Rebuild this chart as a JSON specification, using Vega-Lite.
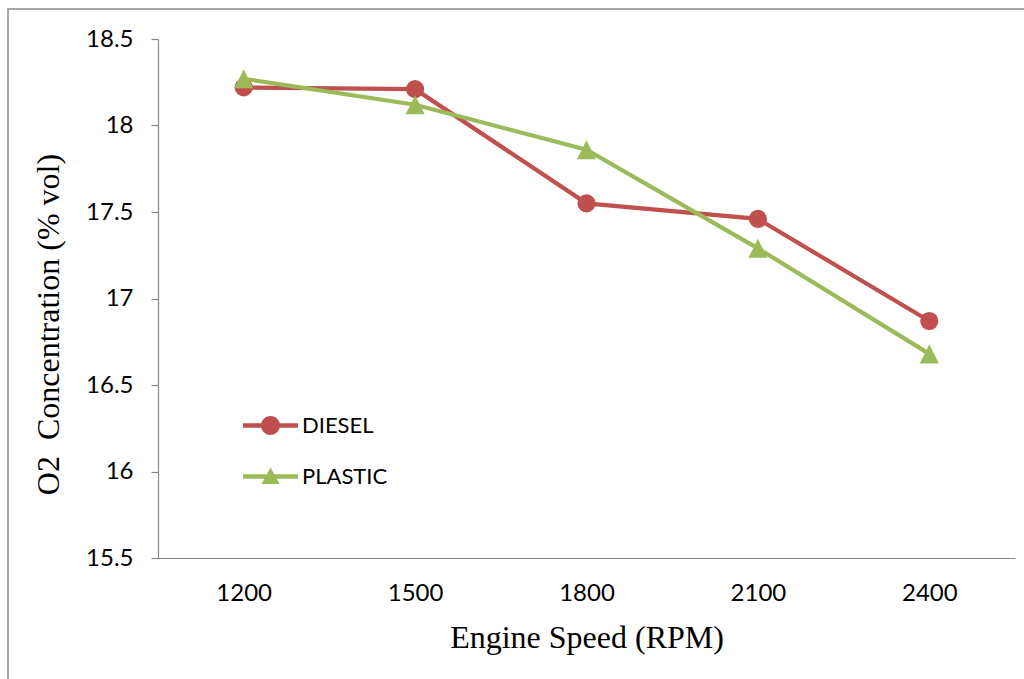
{
  "$schema": "https://vega.github.io/schema/vega-lite/v6.json",
  "width": 1022,
  "height": 676,
  "autosize": {"type": "none"},
  "padding": {"left": 8, "top": 9, "right": -6, "bottom": -6},
  "background": "white",
  "config": {"view": {"stroke": "#8c8c8c", "strokeWidth": 1.5, "fill": null}, "font": "Lato"},
  "data": {
    "values": [
      {"rpm": "1200", "fuel": "DIESEL", "o2": 18.22},
      {"rpm": "1500", "fuel": "DIESEL", "o2": 18.21},
      {"rpm": "1800", "fuel": "DIESEL", "o2": 17.55},
      {"rpm": "2100", "fuel": "DIESEL", "o2": 17.46},
      {"rpm": "2400", "fuel": "DIESEL", "o2": 16.87},
      {"rpm": "1200", "fuel": "PLASTIC", "o2": 18.27},
      {"rpm": "1500", "fuel": "PLASTIC", "o2": 18.12},
      {"rpm": "1800", "fuel": "PLASTIC", "o2": 17.86},
      {"rpm": "2100", "fuel": "PLASTIC", "o2": 17.29},
      {"rpm": "2400", "fuel": "PLASTIC", "o2": 16.68}
    ]
  },
  "encoding": {
    "x": {
      "field": "rpm",
      "type": "ordinal",
      "sort": null,
      "scale": {"padding": 0.5, "range": [150, 1007]},
      "axis": {
        "title": "Engine Speed (RPM)",
        "offset": -127,
        "titleFont": "Liberation Serif",
        "titleFontSize": 32,
        "titleFontWeight": "normal",
        "titleColor": "black",
        "titleBaseline": "alphabetic",
        "titleY": 89,
        "labelAngle": 0,
        "labelFont": "Lato",
        "labelFontSize": 24,
        "labelColor": "black",
        "labelBaseline": "alphabetic",
        "labelPadding": 42,
        "ticks": false,
        "tickSize": 0,
        "domainColor": "#868686",
        "domainWidth": 1.2,
        "grid": false
      }
    },
    "y": {
      "field": "o2",
      "type": "quantitative",
      "scale": {"domain": [15.5, 18.5], "nice": false, "zero": false, "range": [549, 30]},
      "axis": {
        "title": "O2\u00a0 Concentration (% vol)",
        "offset": -150,
        "titleFont": "Liberation Serif",
        "titleFontSize": 32,
        "titleFontWeight": "normal",
        "titleColor": "black",
        "titleBaseline": "alphabetic",
        "titleX": -100,
        "titleY": 315,
        "values": [15.5, 16, 16.5, 17, 17.5, 18, 18.5],
        "format": "~r",
        "labelFont": "Lato",
        "labelFontSize": 24,
        "labelColor": "black",
        "labelPadding": 18,
        "tickSize": 7,
        "tickColor": "#868686",
        "tickWidth": 1.2,
        "domainColor": "#868686",
        "domainWidth": 1.2,
        "grid": false
      }
    },
    "color": {
      "field": "fuel",
      "type": "nominal",
      "scale": {"domain": ["DIESEL", "PLASTIC"], "range": ["#C0504D", "#9BBB59"]},
      "legend": {
        "title": null,
        "orient": "none",
        "legendX": 235,
        "legendY": 389,
        "padding": 0,
        "rowPadding": 12,
        "symbolSize": 3025,
        "symbolStrokeWidth": 0,
        "symbolOpacity": 1,
        "symbolType": {"expr": "datum.value === 'DIESEL' ? 'M-1,-0.08 L1,-0.08 L1,0.08 L-1,0.08 Z M-0.345,0 A0.345,0.345 0 1,1 0.345,0 A0.345,0.345 0 1,1 -0.345,0 Z' : 'M-1,-0.08 L1,-0.08 L1,0.08 L-1,0.08 Z M0,-0.33 L0.33,0.27 L-0.33,0.27 Z'"},
        "labelFont": "Lato",
        "labelFontSize": 22,
        "labelColor": "black",
        "labelOffset": 4
      }
    }
  },
  "layer": [
    {
      "mark": {"type": "line", "strokeWidth": 4.2}
    },
    {
      "transform": [{"filter": "datum.fuel === 'DIESEL'"}],
      "mark": {"type": "point", "filled": true, "opacity": 1, "size": 330, "shape": "circle"}
    },
    {
      "transform": [{"filter": "datum.fuel === 'PLASTIC'"}],
      "mark": {"type": "point", "filled": true, "opacity": 1, "size": 330, "shape": "M0,-1.05 L1.05,1.05 L-1.05,1.05 Z"}
    }
  ]
}
